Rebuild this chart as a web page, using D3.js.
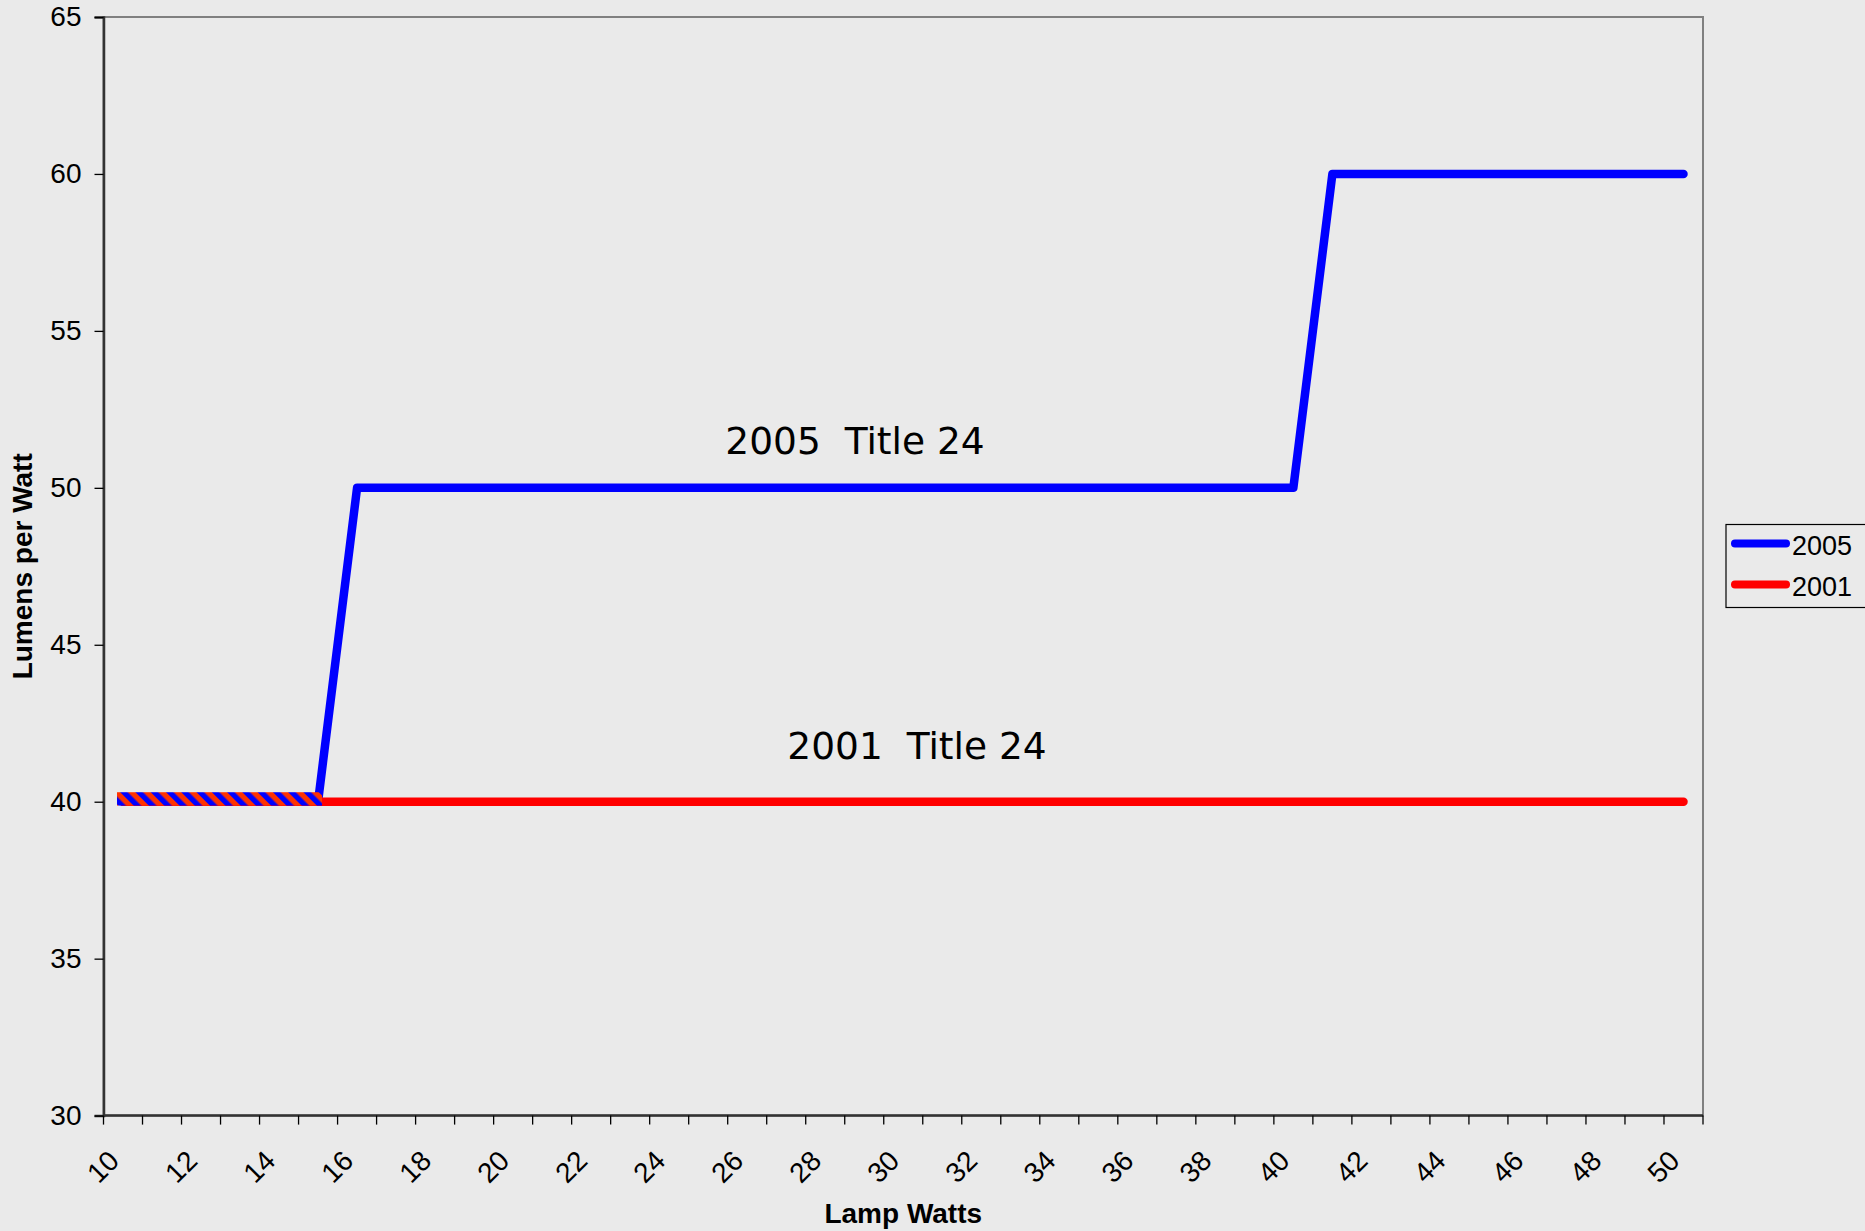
<!DOCTYPE html>
<html>
<head>
<meta charset="utf-8">
<script src="https://cdn.jsdelivr.net/npm/d3@7/dist/d3.min.js"></script>
<style>
  html, body { margin: 0; padding: 0; background: #EAEAEA; }
  svg { display: block; }
</style>
</head>
<body>
<svg id="chart" width="1865" height="1231"></svg>
<script>
// ---- DATA ----
const categories = [10,11,12,13,14,15,16,17,18,19,20,21,22,23,24,25,26,27,28,29,30,
                    31,32,33,34,35,36,37,38,39,40,41,42,43,44,45,46,47,48,49,50];
const values2005 = [40,40,40,40,40,40,50,50,50,50,50,50,50,50,50,50,50,50,50,50,50,
                    50,50,50,50,50,50,50,50,50,50,60,60,60,60,60,60,60,60,60,60];
const values2001 = [40,40,40,40,40,40,40,40,40,40,40,40,40,40,40,40,40,40,40,40,40,
                    40,40,40,40,40,40,40,40,40,40,40,40,40,40,40,40,40,40,40,40];
const xTickLabels = [10,12,14,16,18,20,22,24,26,28,30,32,34,36,38,40,42,44,46,48,50];
const yTicks = [30,35,40,45,50,55,60,65];
const seriesNames = ["2005","2001"];
const overlapRange = [10,15];

// ---- LAYOUT ----
const L = 103.5, R = 1703, T = 17, B = 1115.6;
const svg = d3.select("#chart");
const font = "Arial, 'Liberation Sans', sans-serif";

const x = d3.scaleBand().domain(categories).range([L, R]).padding(0);
const bw = x.bandwidth();
const xc = c => x(c) + bw / 2;
const y = d3.scaleLinear().domain([30, 65]).range([B, T]);

svg.append("rect").attr("width", 1865).attr("height", 1231).attr("fill", "#EAEAEA");

// plot border (gray)
svg.append("rect").attr("x", L).attr("y", T).attr("width", R - L).attr("height", B - T)
  .attr("fill", "#EAEAEA").attr("stroke", "#808080").attr("stroke-width", 2);

// pattern for overlap
const defs = svg.append("defs");
const pat = defs.append("pattern").attr("id", "hatch")
  .attr("patternUnits", "userSpaceOnUse").attr("width", 10.8).attr("height", 10.8)
  .attr("patternTransform", "rotate(-45)");
pat.append("rect").attr("width", 10.8).attr("height", 10.8).attr("fill", "#FF3300");
pat.append("rect").attr("width", 5.4).attr("height", 10.8).attr("fill", "#0000FF");

// lines
const line = d3.line().x((d, i) => xc(categories[i])).y(d => y(d));
svg.append("path").datum(values2005).attr("d", line)
  .attr("fill", "none").attr("stroke", "#0000FF").attr("stroke-width", 8.5)
  .attr("stroke-linejoin", "round").attr("stroke-linecap", "round");
svg.append("path").datum(values2001).attr("d", line)
  .attr("fill", "none").attr("stroke", "#FF0000").attr("stroke-width", 8.5)
  .attr("stroke-linejoin", "round").attr("stroke-linecap", "round");

// hatched overlap block
svg.append("rect")
  .attr("x", xc(overlapRange[0]) - 6)
  .attr("y", y(40) - 9.5)
  .attr("width", xc(overlapRange[1]) + 4 - (xc(overlapRange[0]) - 6))
  .attr("height", 13.4)
  .attr("fill", "url(#hatch)");

// Y axis
const yAxis = svg.append("g").attr("transform", `translate(${L},0)`)
  .call(d3.axisLeft(y).tickValues(yTicks).tickSize(9).tickPadding(13));
yAxis.select(".domain").attr("stroke", "#333").attr("stroke-width", 2.5);
yAxis.selectAll(".tick line").attr("stroke", "#000").attr("stroke-width", 1.3);
yAxis.selectAll(".tick text").attr("font-family", font).attr("font-size", 28).attr("fill", "#000");

// X axis line
svg.append("line").attr("x1", L).attr("x2", R).attr("y1", B).attr("y2", B)
  .attr("stroke", "#333").attr("stroke-width", 2.5);
// x ticks at category boundaries
const boundaries = categories.map(c => x(c)).concat([R]);
svg.append("g").selectAll("line").data(boundaries).join("line")
  .attr("x1", d => d).attr("x2", d => d).attr("y1", B).attr("y2", B + 9)
  .attr("stroke", "#000").attr("stroke-width", 1.3);
// x tick labels
svg.append("g").selectAll("text").data(xTickLabels).join("text")
  .attr("transform", d => `translate(${xc(d) - 16},${B + 33}) rotate(-45)`)
  .attr("text-anchor", "end")
  .attr("dy", "0.7em")
  .attr("font-family", font).attr("font-size", 28).attr("fill", "#000")
  .text(d => d);

// axis titles
svg.append("text").attr("transform", `translate(32,${(T + B) / 2}) rotate(-90)`)
  .attr("text-anchor", "middle").attr("font-family", font).attr("font-weight", "bold")
  .attr("font-size", 28).text("Lumens per Watt");
svg.append("text").attr("x", (L + R) / 2).attr("y", 1223)
  .attr("text-anchor", "middle").attr("font-family", font).attr("font-weight", "bold")
  .attr("font-size", 28).text("Lamp Watts");

// annotations
const annFont = "'DejaVu Sans', Verdana, sans-serif";
svg.append("text").attr("x", 855).attr("y", 454).attr("text-anchor", "middle")
  .attr("font-family", annFont).attr("font-size", 37.5).attr("fill", "#000")
  .style("white-space", "pre").text("2005  Title 24");
svg.append("text").attr("x", 917).attr("y", 759).attr("text-anchor", "middle")
  .attr("font-family", annFont).attr("font-size", 37.5).attr("fill", "#000")
  .style("white-space", "pre").text("2001  Title 24");

// legend
const lg = svg.append("g");
lg.append("rect").attr("x", 1726).attr("y", 524.5).attr("width", 150).attr("height", 83)
  .attr("fill", "#EAEAEA").attr("stroke", "#000").attr("stroke-width", 1.2);
const legColors = ["#0000FF", "#FF0000"];
const legY = [543.5, 584.5];
seriesNames.forEach((n, i) => {
  lg.append("line").attr("x1", 1735).attr("x2", 1786).attr("y1", legY[i]).attr("y2", legY[i])
    .attr("stroke", legColors[i]).attr("stroke-width", 8).attr("stroke-linecap", "round");
  lg.append("text").attr("x", 1792).attr("y", legY[i] + 11.5)
    .attr("font-family", font).attr("font-size", 27).attr("fill", "#000").text(n);
});
</script>
</body>
</html>
